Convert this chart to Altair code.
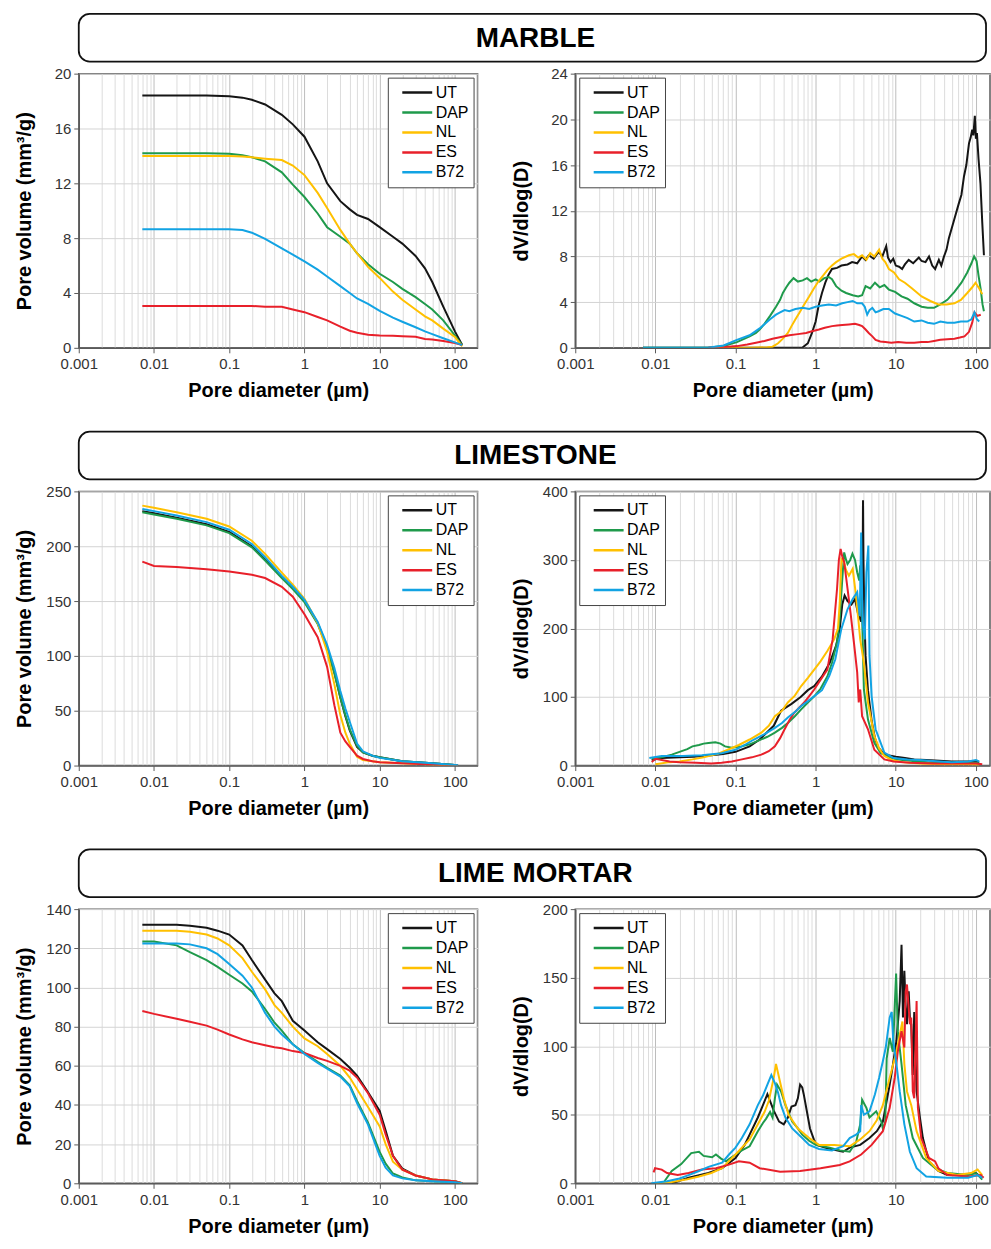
import altair as alt
import pandas as pd

FONT = "Liberation Sans"
SERIES = ["UT", "DAP", "NL", "ES", "B72"]
COLORS = ["#151515", "#1f9a4b", "#ffc000", "#e8202a", "#12a3e3"]
X_DECADES = [0.001, 0.01, 0.1, 1, 10, 100]
MINOR_STEPS = [1, 2, 3, 4, 5, 6, 7, 8, 9]
TITLES = ["MARBLE", "LIMESTONE", "LIME MORTAR"]
X_TITLE = "Pore diameter (µm)"
Y_TITLE_CUM = "Pore volume (mm³/g)"
Y_TITLE_DV = "dV/dlog(D)"

# ---------------- MARBLE ----------------
M_CUM_X = [0.007, 0.01, 0.02, 0.05, 0.1, 0.15, 0.2, 0.3, 0.5, 0.7, 1, 1.5, 2, 3, 4, 5, 7, 10, 15, 20, 30, 40, 50, 70, 100, 125]
M_CUM_UT = [18.4, 18.4, 18.4, 18.4, 18.35, 18.25, 18.1, 17.75, 17.0, 16.3, 15.4, 13.6, 12.0, 10.7, 10.1, 9.7, 9.4, 8.8, 8.1, 7.6, 6.7, 5.8, 4.8, 3.0, 1.2, 0.2]
M_CUM_DAP = [14.2, 14.2, 14.2, 14.2, 14.15, 14.05, 13.9, 13.6, 12.8, 11.9, 11.0, 9.8, 8.8, 8.1, 7.6, 6.9, 6.1, 5.4, 4.8, 4.3, 3.7, 3.2, 2.8, 2.0, 0.9, 0.2]
M_CUM_NL = [14.0, 14.0, 14.0, 14.0, 14.0, 13.95, 13.9, 13.8, 13.7, 13.3, 12.6, 11.3, 10.2, 8.6, 7.6, 6.9, 5.9, 5.1, 4.1, 3.5, 2.8, 2.3, 2.0, 1.4, 0.8, 0.1]
M_CUM_ES = [3.05, 3.05, 3.05, 3.05, 3.05, 3.05, 3.05, 3.0, 3.0, 2.8, 2.6, 2.25, 2.0, 1.55, 1.25, 1.1, 0.95, 0.9, 0.88, 0.85, 0.8, 0.65, 0.6, 0.5, 0.35, 0.2]
M_CUM_B72 = [8.65, 8.65, 8.65, 8.65, 8.65, 8.6, 8.4, 7.95, 7.25, 6.8, 6.3, 5.7, 5.2, 4.5, 4.0, 3.6, 3.2, 2.7, 2.2, 1.9, 1.5, 1.2, 1.0, 0.7, 0.4, 0.2]

M_DV_UT_X = [0.007, 0.3, 0.68, 0.8, 0.9, 1.0, 1.09, 1.2, 1.32, 1.45, 1.6, 1.85, 2.1, 2.5, 2.85, 3.3, 3.8, 4.2, 4.6, 5.3, 6.1, 6.8, 7.6, 8.0, 8.6, 9.3, 10, 11, 12, 13, 14.5, 16.5, 19.4, 21, 23.5, 26, 28.5, 31, 34.5, 37, 40, 43, 46, 53, 61, 66, 71, 76, 82, 86, 90, 93, 97, 100, 103, 108, 114, 120, 126]
M_DV_UT_Y = [0, 0, 0, 0.4, 1.3, 2.3, 3.7, 4.8, 5.7, 6.4, 6.9, 7.0, 7.2, 7.3, 7.5, 7.4, 8.0, 7.7, 8.1, 7.8, 8.4, 8.0, 8.9, 7.9, 7.5, 7.8, 7.2, 7.1, 6.9, 7.3, 7.7, 7.4, 7.9, 7.6, 7.5, 8.0, 7.2, 6.9, 7.7, 7.2, 8.0, 8.6, 9.6, 11.1, 12.6, 13.4, 15.0, 16.0, 17.9, 18.4, 19.1, 18.6, 20.3, 18.3, 18.8, 16.5, 14.4, 11.0, 8.1]
M_DV_DAP_X = [0.007, 0.045, 0.071, 0.104, 0.13, 0.15, 0.18, 0.2, 0.23, 0.27, 0.32, 0.36, 0.39, 0.43, 0.47, 0.53, 0.6, 0.69, 0.78, 0.88, 1.0, 1.12, 1.28, 1.46, 1.6, 1.8, 2.1, 2.4, 2.9, 3.4, 3.8, 4.2, 4.8, 5.5, 6.3, 7.2, 8.2, 9.8, 11.8, 14, 17, 21, 25, 30, 36, 44, 54, 66, 78, 88, 95, 102, 108, 115, 121, 126]
M_DV_DAP_Y = [0, 0, 0.15, 0.5, 0.8, 1.0, 1.3, 1.6, 2.1, 2.8, 3.6, 4.2, 4.8, 5.3, 5.7, 6.1, 5.8, 5.9, 6.1, 5.8, 6.0, 5.8, 6.1, 6.2, 6.0, 5.4, 5.0, 4.8, 4.6, 4.5, 4.6, 5.4, 5.2, 5.7, 5.3, 5.5, 5.1, 4.9, 4.5, 4.3, 3.9, 3.6, 3.5, 3.5, 3.8, 4.2, 4.9, 5.7, 6.6, 7.4, 8.0, 7.6, 6.3, 5.1, 3.8, 3.2]
M_DV_NL_X = [0.05, 0.15, 0.25, 0.29, 0.34, 0.39, 0.45, 0.5, 0.56, 0.63, 0.72, 0.83, 0.95, 1.08, 1.23, 1.4, 1.6, 1.8, 2.1, 2.6, 3.0, 3.4, 3.8, 4.3, 4.8, 5.4, 6.2, 6.8, 7.4, 8.2, 9.5, 11, 13, 16, 21, 27, 34, 43, 54, 65, 78, 90, 99, 110, 120]
M_DV_NL_Y = [0, 0, 0.05, 0.1, 0.4, 0.8, 1.3, 1.9, 2.5, 3.1, 3.8, 4.5, 5.2, 5.8, 6.3, 6.8, 7.2, 7.5, 7.8, 8.1, 8.2, 7.9, 8.1, 7.7, 8.3, 8.0, 8.6, 7.8, 7.5, 6.9, 6.6, 6.0, 5.7, 5.2, 4.5, 4.1, 3.8, 3.8, 3.9, 4.2, 4.8, 5.3, 5.7, 5.2, 4.7]
M_DV_ES_X = [0.046, 0.07, 0.104, 0.14, 0.18, 0.23, 0.29, 0.37, 0.47, 0.6, 0.76, 0.9, 1.1, 1.3, 1.6, 1.85, 2.15, 2.6, 3.1, 3.5, 3.8, 4.2, 4.6, 5.1, 5.6, 6.4, 7.4, 8.8, 10.7, 13.5, 17, 21, 25, 30, 36, 44, 54, 63, 72, 82, 90, 96, 104, 115]
M_DV_ES_Y = [0, 0.05, 0.15, 0.3, 0.45, 0.6, 0.8, 0.95, 1.1, 1.2, 1.3, 1.45, 1.6, 1.75, 1.9, 1.95, 2.0, 2.05, 2.1, 2.0, 1.9, 1.6, 1.3, 1.0, 0.7, 0.55, 0.5, 0.45, 0.5, 0.45, 0.45, 0.5, 0.5, 0.6, 0.7, 0.75, 0.8, 0.9, 1.0, 1.4, 2.2, 3.1, 2.8, 2.9]
M_DV_B72_X = [0.007, 0.045, 0.071, 0.104, 0.15, 0.2, 0.27, 0.32, 0.36, 0.41, 0.47, 0.56, 0.69, 0.83, 1.0, 1.2, 1.46, 1.8, 2.15, 2.5, 2.9, 3.3, 3.8, 4.1, 4.4, 4.7, 5.1, 5.6, 6.1, 7.0, 8.2, 9.8, 11.8, 14, 17, 21, 25, 30, 36, 44, 54, 65, 78, 88, 96, 103, 110]
M_DV_B72_Y = [0, 0, 0.2, 0.7, 1.1, 1.7, 2.5, 2.9, 3.1, 3.3, 3.2, 3.4, 3.5, 3.4, 3.6, 3.7, 3.8, 3.7, 3.9, 4.0, 4.1, 3.9, 3.9, 3.6, 2.9, 3.3, 3.5, 3.1, 3.2, 3.4, 3.4, 3.0, 2.8, 2.6, 2.3, 2.4, 2.2, 2.1, 2.3, 2.2, 2.2, 2.3, 2.3, 2.5, 3.1, 2.5, 2.3]

# ---------------- LIMESTONE ----------------
L_CUM_X = [0.007, 0.01, 0.02, 0.05, 0.1, 0.2, 0.3, 0.5, 0.7, 1, 1.5, 2, 2.5, 3, 3.5, 4, 5, 6, 8, 10, 20, 50, 110]
L_CUM_UT = [232, 230, 226, 220, 213, 200, 188, 172, 162, 150, 130, 108, 85, 62, 45, 32, 17, 12, 9, 7.5, 4, 2, 0.3]
L_CUM_DAP = [231, 229, 225, 219, 212, 199, 187, 171, 161, 149, 129, 107, 84, 62, 46, 33, 18, 12, 9, 7.5, 4, 2, 0.3]
L_CUM_NL = [237, 235, 231, 225, 218, 205, 193, 176, 165, 152, 130, 104, 74, 46, 30, 20, 8, 5, 4, 3, 2, 1, 0]
L_CUM_ES = [186, 182, 181, 179, 177, 174, 171, 163, 154, 138, 117, 90, 55, 30, 22, 17, 9, 6, 4, 3, 2, 1, 0]
L_CUM_B72 = [234, 232, 228, 222, 215, 202, 190, 173, 163, 151, 131, 110, 89, 68, 52, 40, 20, 13, 9, 7, 4, 2, 0.3]

L_DV_UT_X = [0.009, 0.012, 0.02, 0.03, 0.05, 0.07, 0.1, 0.15, 0.2, 0.3, 0.37, 0.5, 0.65, 0.8, 0.96, 1.2, 1.5, 1.8, 2.0, 2.15, 2.3, 2.5, 2.8, 3.1, 3.4, 3.7, 3.85, 3.9, 3.95, 4.05, 4.2, 4.5, 5, 5.5, 6, 7, 8, 10, 13, 17, 24, 35, 50, 70, 100, 110]
L_DV_UT_Y = [8, 11, 12, 13, 15, 17, 20, 28, 38, 58, 80, 90, 100, 110, 116, 130, 150, 175, 200, 235, 248, 240, 235, 243, 220, 210, 260, 387, 300, 220, 160, 110, 65, 40, 27, 18, 15, 13, 11, 9, 8, 7, 6, 6, 6, 5]
L_DV_DAP_X = [0.009, 0.012, 0.016, 0.02, 0.025, 0.029, 0.035, 0.04, 0.046, 0.056, 0.065, 0.074, 0.09, 0.12, 0.15, 0.19, 0.25, 0.31, 0.38, 0.45, 0.55, 0.66, 0.8, 0.96, 1.15, 1.4, 1.6, 1.85, 2.0, 2.15, 2.27, 2.4, 2.5, 2.7, 2.88, 3.1, 3.3, 3.5, 3.6, 3.8, 4.0, 4.5, 5.4, 6.5, 8, 10, 15, 25, 50, 100, 110]
L_DV_DAP_Y = [10, 12, 16, 20, 24, 28, 30, 32, 33, 34, 32, 28, 26, 28, 31, 36, 42, 48, 55, 62, 72, 82, 92, 101, 112, 130, 150, 180, 215, 272, 311, 300, 294, 300, 309, 300, 282, 270, 292, 220, 111, 67, 33, 18, 13, 9, 7, 5, 4, 4, 3]
L_DV_NL_X = [0.01, 0.015, 0.02, 0.029, 0.04, 0.06, 0.08, 0.11, 0.15, 0.21, 0.26, 0.31, 0.38, 0.45, 0.55, 0.66, 0.8, 0.96, 1.15, 1.4, 1.7, 1.9, 2.0, 2.1, 2.25, 2.4, 2.6, 2.75, 2.9, 3.15, 3.4, 3.6, 4.0, 4.5, 5.4, 6.2, 7.2, 9, 12, 20, 40, 80, 110]
L_DV_NL_Y = [2, 5, 6, 9, 12, 17, 23, 30, 38, 48, 58, 72, 80, 92, 102, 116, 128, 140, 152, 167, 184, 200, 238, 301, 297, 285, 277, 282, 287, 253, 215, 184, 150, 92, 43, 25, 14, 8, 5, 3, 2, 2, 1]
L_DV_ES_X = [0.009, 0.01, 0.015, 0.02, 0.032, 0.05, 0.067, 0.09, 0.12, 0.16, 0.21, 0.26, 0.31, 0.36, 0.41, 0.47, 0.54, 0.63, 0.72, 0.84, 0.96, 1.15, 1.4, 1.63, 1.85, 1.95, 2.05, 2.15, 2.27, 2.5, 2.75, 3.0, 3.3, 3.45, 3.6, 3.8, 4.5, 5.4, 7.2, 9.4, 15, 30, 60, 100, 120]
L_DV_ES_Y = [5, 10, 6, 5, 4, 3, 4, 6, 9, 12, 16, 21, 28, 40, 53, 66, 77, 85, 92, 102, 111, 125, 140, 184, 258, 300, 316, 305, 297, 258, 219, 180, 136, 92, 111, 72, 53, 23, 9, 6, 4, 3, 3, 3, 2]
L_DV_B72_X = [0.0084, 0.012, 0.022, 0.038, 0.067, 0.1, 0.13, 0.17, 0.23, 0.31, 0.38, 0.45, 0.55, 0.66, 0.8, 0.96, 1.2, 1.48, 1.76, 2.09, 2.5, 2.9, 3.3, 3.55, 3.7, 3.85, 4.1, 4.3, 4.55, 4.7, 5.0, 5.6, 7.2, 9.4, 14, 20, 35, 50, 80, 100, 110]
L_DV_B72_Y = [11, 14, 14, 15, 18, 23, 30, 38, 46, 55, 62, 70, 78, 87, 94, 101, 110, 131, 155, 199, 228, 243, 253, 218, 340, 209, 184, 282, 321, 160, 101, 53, 19, 11, 9, 8, 6, 5, 6, 8, 6]

# ---------------- LIME MORTAR ----------------
LM_CUM_X = [0.007, 0.01, 0.02, 0.03, 0.05, 0.07, 0.1, 0.15, 0.2, 0.3, 0.4, 0.5, 0.7, 1, 1.5, 2, 3, 4, 5, 7, 10, 12, 15, 20, 30, 50, 100, 125]
LM_CUM_UT = [132, 132, 132, 131.5, 130.5, 129, 127, 121.5, 114, 104, 97, 93, 83, 78, 72, 68.5, 63.5, 59, 55, 46.5, 37, 27, 14, 7.5, 4, 2, 1, 0]
LM_CUM_DAP = [123.5, 123.5, 121.5, 118, 114, 110.5, 106.5, 102, 98, 89, 82, 78, 71, 66.5, 62, 59, 55, 50, 42, 31, 16, 10, 5, 3, 1.5, 1, 0.5, 0]
LM_CUM_NL = [129, 129, 129, 128.5, 127, 125, 121.5, 115, 108, 99, 91, 87, 80, 74, 70, 66, 60, 54, 48, 39, 29, 20, 11, 7, 4, 2, 1, 0]
LM_CUM_ES = [88, 86.5, 84, 82.5, 80.5, 78.5, 76, 73.5, 72, 70.5, 69.5, 69, 67.5, 66.5, 64, 62.5, 60, 57.5, 54, 46, 35, 25, 14, 7, 4, 2, 1, 0]
LM_CUM_B72 = [122.5, 122.5, 122.5, 122, 120, 117, 112, 106, 100, 87, 80, 76, 71, 66, 61.5, 58.5, 54.5, 49.5, 41, 30, 14, 8, 4, 2.5, 1.5, 1, 0.5, 0]

LM_DV_UT_X = [0.016, 0.026, 0.046, 0.068, 0.1, 0.13, 0.15, 0.19, 0.22, 0.25, 0.27, 0.3, 0.35, 0.4, 0.45, 0.5, 0.56, 0.6, 0.64, 0.68, 0.71, 0.78, 0.85, 0.95, 1.03, 1.4, 2.2, 2.66, 3.6, 4.7, 5.8, 6.9, 8.4, 9.3, 10.2, 11.2, 11.8, 12.3, 12.8, 13.3, 13.8, 14.5, 15.0, 15.6, 16.3, 17.0, 18.2, 20, 21.8, 25.9, 34, 44, 63, 100, 113]
LM_DV_UT_Y = [0, 4, 7.5, 11, 18.5, 28, 35.5, 48, 57, 65, 60, 53, 45, 43, 48, 56, 57, 62, 72, 70, 65, 52, 40, 32, 28, 25.6, 23, 26, 28, 33, 38, 45, 72, 88, 104, 133, 174, 121, 155, 128, 116, 140, 121, 116, 79, 125, 67, 48, 33, 16, 9, 6, 6, 7.5, 5]
LM_DV_DAP_X = [0.013, 0.016, 0.021, 0.028, 0.035, 0.04, 0.051, 0.057, 0.066, 0.076, 0.1, 0.12, 0.15, 0.19, 0.22, 0.24, 0.27, 0.29, 0.31, 0.33, 0.37, 0.42, 0.51, 0.6, 0.68, 0.83, 1.0, 1.5, 2.0, 2.66, 3.2, 3.6, 3.8, 4.3, 4.7, 5.7, 6.6, 6.9, 7.4, 7.7, 8.4, 9.2, 10.1, 10.6, 11.8, 13.3, 16.3, 21.8, 31, 44, 80, 100, 120]
LM_DV_DAP_Y = [1.5, 9, 14, 22, 23, 20, 19, 21, 18, 16, 21, 24, 27, 38, 44, 47, 52, 48, 62, 72, 67, 57, 45, 40, 35.5, 31, 28, 26, 24, 23, 30, 43, 61, 55, 48, 52.5, 45, 40, 45, 91, 106, 96, 153, 111, 87, 57, 33, 18.5, 11, 7.5, 6, 7.5, 2.7]
LM_DV_NL_X = [0.01, 0.016, 0.025, 0.035, 0.05, 0.068, 0.1, 0.15, 0.19, 0.23, 0.26, 0.3, 0.32, 0.35, 0.4, 0.46, 0.6, 0.83, 1.1, 1.7, 2.66, 3.6, 4.7, 5.8, 6.9, 8.4, 9.3, 10.2, 11.2, 12.1, 12.8, 13.8, 15.6, 18.2, 24, 34, 58, 87, 105, 120]
LM_DV_NL_Y = [0, 1, 3, 5, 7.5, 11, 21, 32, 43, 52, 60, 77, 87, 77, 62, 50, 40, 33, 28, 28, 27, 32, 38, 46, 57, 77, 87, 96, 108, 118, 87, 67, 57, 38, 18.5, 9, 6, 7.5, 10, 6]
LM_DV_ES_X = [0.0095, 0.0099, 0.012, 0.014, 0.019, 0.026, 0.038, 0.057, 0.083, 0.11, 0.15, 0.2, 0.36, 0.64, 1.15, 2.0, 2.66, 3.7, 5.0, 6.9, 8.4, 9.7, 10.6, 11.8, 12.8, 13.3, 13.8, 15.0, 15.6, 16.3, 17.0, 18.2, 18.9, 20.8, 25.9, 31, 34, 44, 80, 115, 125]
LM_DV_ES_Y = [8, 11, 10, 7.5, 6, 7.5, 10, 11, 13.6, 16, 15, 11, 8.5, 9, 11, 13.4, 16, 21, 28, 38, 55, 77, 96, 111, 99, 140, 145, 116, 121, 67, 62, 133, 55, 33, 18.5, 16, 11, 6, 5, 6, 4]
LM_DV_B72_X = [0.0089, 0.014, 0.02, 0.026, 0.035, 0.046, 0.068, 0.083, 0.1, 0.12, 0.15, 0.19, 0.22, 0.25, 0.28, 0.31, 0.34, 0.37, 0.42, 0.51, 0.68, 0.83, 1.1, 1.6, 2.2, 2.66, 3.2, 3.6, 3.7, 4.0, 4.7, 5.5, 6.2, 6.9, 7.5, 8.4, 8.9, 9.3, 10.2, 11.2, 12.8, 15, 18.2, 24, 44, 80, 105, 120]
LM_DV_B72_Y = [0, 1.5, 3.5, 6, 9, 12, 15, 21, 26, 33, 43, 57, 64, 72, 79, 73, 66, 57, 48, 40, 33, 28, 25, 24, 27, 33, 35.5, 38, 57, 50, 52.5, 65, 77, 89, 99, 121, 125, 104, 87, 67, 43, 23, 11, 5, 4, 4, 6, 4]

Y_M_CUM = [0, 4, 8, 12, 16, 20]
Y_M_DV = [0, 4, 8, 12, 16, 20, 24]
Y_L_CUM = [0, 50, 100, 150, 200, 250]
Y_L_DV = [0, 100, 200, 300, 400]
Y_LM_CUM = [0, 20, 40, 60, 80, 100, 120, 140]
Y_LM_DV = [0, 50, 100, 150, 200]

# ---------------- layout ----------------
LEFT_W, RIGHT_W, PANEL_H = 400, 416, 275
LEFT_XMAX, RIGHT_XMAX = 200, 150
BOX_H, BOX_W = 48, 910


def frame(items):
    rows = []
    for name, xs, ys in items:
        if len(xs) != len(ys):
            raise ValueError(f"{name}: {len(xs)} x vs {len(ys)} y")
        rows += [{"s": name, "d": x, "v": y} for x, y in zip(xs, ys)]
    return pd.DataFrame(rows)


def cum_frame(xs, ys_list):
    return frame([(s, xs, ys) for s, ys in zip(SERIES, ys_list)])


DECADE_TEST = "indexof([0.001,0.01,0.1,1,10,100], datum.value) >= 0"


def panel(df, ytitle, yticks, xmax, width, lorient):
    xvals = [round(d * m, 6) for d in X_DECADES for m in MINOR_STEPS if d * m <= xmax]
    return alt.Chart(df).mark_line(strokeWidth=2, clip=True).encode(
        x=alt.X(
            "d:Q",
            title=X_TITLE,
            scale=alt.Scale(type="log", domain=[0.001, xmax]),
            axis=alt.Axis(
                values=xvals,
                format="~g",
                labelExpr=f"{DECADE_TEST} ? datum.label : ''",
                labelOverlap=False,
                labelFlush=False,
                labelPadding=4,
                titlePadding=9,
                gridColor={"condition": {"test": DECADE_TEST, "value": "#bdbdbd"}, "value": "#dcdcdc"},
                tickOpacity={"condition": {"test": DECADE_TEST, "value": 1}, "value": 0},
            ),
        ),
        y=alt.Y(
            "v:Q",
            title=ytitle,
            scale=alt.Scale(domain=[yticks[0], yticks[-1]], nice=False),
            axis=alt.Axis(values=yticks, labelPadding=3, titlePadding=6,
                          minExtent=38, maxExtent=38, gridColor="#d4d4d4"),
        ),
        color=alt.Color(
            "s:N",
            title=None,
            scale=alt.Scale(domain=SERIES, range=COLORS),
            legend=alt.Legend(orient=lorient, offset=4),
        ),
    ).properties(width=width, height=PANEL_H)


def title_box(name):
    tdf = pd.DataFrame({"t": [name]})
    return alt.Chart(tdf).mark_text(
        font=FONT, fontSize=28, fontWeight="bold", color="black",
        align="center", baseline="middle",
    ).encode(
        text="t:N", x=alt.value(458), y=alt.value(BOX_H / 2 + 1)
    ).properties(width=BOX_W, height=BOX_H,
                 view=alt.ViewBackground(stroke="#111111", strokeWidth=1.8,
                                         cornerRadius=11, fill="white"))


def row(name, left_df, left_ticks, right_df, right_ticks):
    left = panel(left_df, Y_TITLE_CUM, left_ticks, LEFT_XMAX, LEFT_W, "top-right")
    right = panel(right_df, Y_TITLE_DV, right_ticks, RIGHT_XMAX, RIGHT_W, "top-left")
    panels = alt.hconcat(left, right, spacing=32).resolve_scale(color="independent")
    return alt.vconcat(title_box(name), panels, spacing=3).resolve_scale(color="independent")


m_cum = cum_frame(M_CUM_X, [M_CUM_UT, M_CUM_DAP, M_CUM_NL, M_CUM_ES, M_CUM_B72])
m_dv = frame([("UT", M_DV_UT_X, M_DV_UT_Y), ("DAP", M_DV_DAP_X, M_DV_DAP_Y),
              ("NL", M_DV_NL_X, M_DV_NL_Y), ("ES", M_DV_ES_X, M_DV_ES_Y),
              ("B72", M_DV_B72_X, M_DV_B72_Y)])
l_cum = cum_frame(L_CUM_X, [L_CUM_UT, L_CUM_DAP, L_CUM_NL, L_CUM_ES, L_CUM_B72])
l_dv = frame([("UT", L_DV_UT_X, L_DV_UT_Y), ("DAP", L_DV_DAP_X, L_DV_DAP_Y),
              ("NL", L_DV_NL_X, L_DV_NL_Y), ("ES", L_DV_ES_X, L_DV_ES_Y),
              ("B72", L_DV_B72_X, L_DV_B72_Y)])
lm_cum = cum_frame(LM_CUM_X, [LM_CUM_UT, LM_CUM_DAP, LM_CUM_NL, LM_CUM_ES, LM_CUM_B72])
lm_dv = frame([("UT", LM_DV_UT_X, LM_DV_UT_Y), ("DAP", LM_DV_DAP_X, LM_DV_DAP_Y),
               ("NL", LM_DV_NL_X, LM_DV_NL_Y), ("ES", LM_DV_ES_X, LM_DV_ES_Y),
               ("B72", LM_DV_B72_X, LM_DV_B72_Y)])

chart = alt.vconcat(
    row(TITLES[0], m_cum, Y_M_CUM, m_dv, Y_M_DV),
    row(TITLES[1], l_cum, Y_L_CUM, l_dv, Y_L_DV),
    row(TITLES[2], lm_cum, Y_LM_CUM, lm_dv, Y_LM_DV),
    spacing=29,
).resolve_scale(color="independent").properties(
    padding={"left": 14, "top": 11, "right": 0, "bottom": 0},
    background="white",
).configure_view(
    stroke="#5a5a5a", strokeWidth=1.5
).configure_axis(
    labelFont=FONT, labelFontSize=15, labelColor="#333333",
    titleFont=FONT, titleFontSize=20, titleFontWeight="bold", titleColor="black",
    domainColor="#5a5a5a", domainWidth=1.5, tickColor="#5a5a5a", tickSize=5,
    gridWidth=1,
).configure_legend(
    strokeColor="#444444", fillColor="white", padding=5, cornerRadius=0,
    symbolType="stroke", symbolSize=900, symbolStrokeWidth=2.5, symbolOffset=8,
    labelFont=FONT, labelFontSize=16, labelColor="black", labelOffset=2,
    clipHeight=20, rowPadding=0,
)

chart.save("out.html", embed_options={"renderer": "svg", "actions": False})
